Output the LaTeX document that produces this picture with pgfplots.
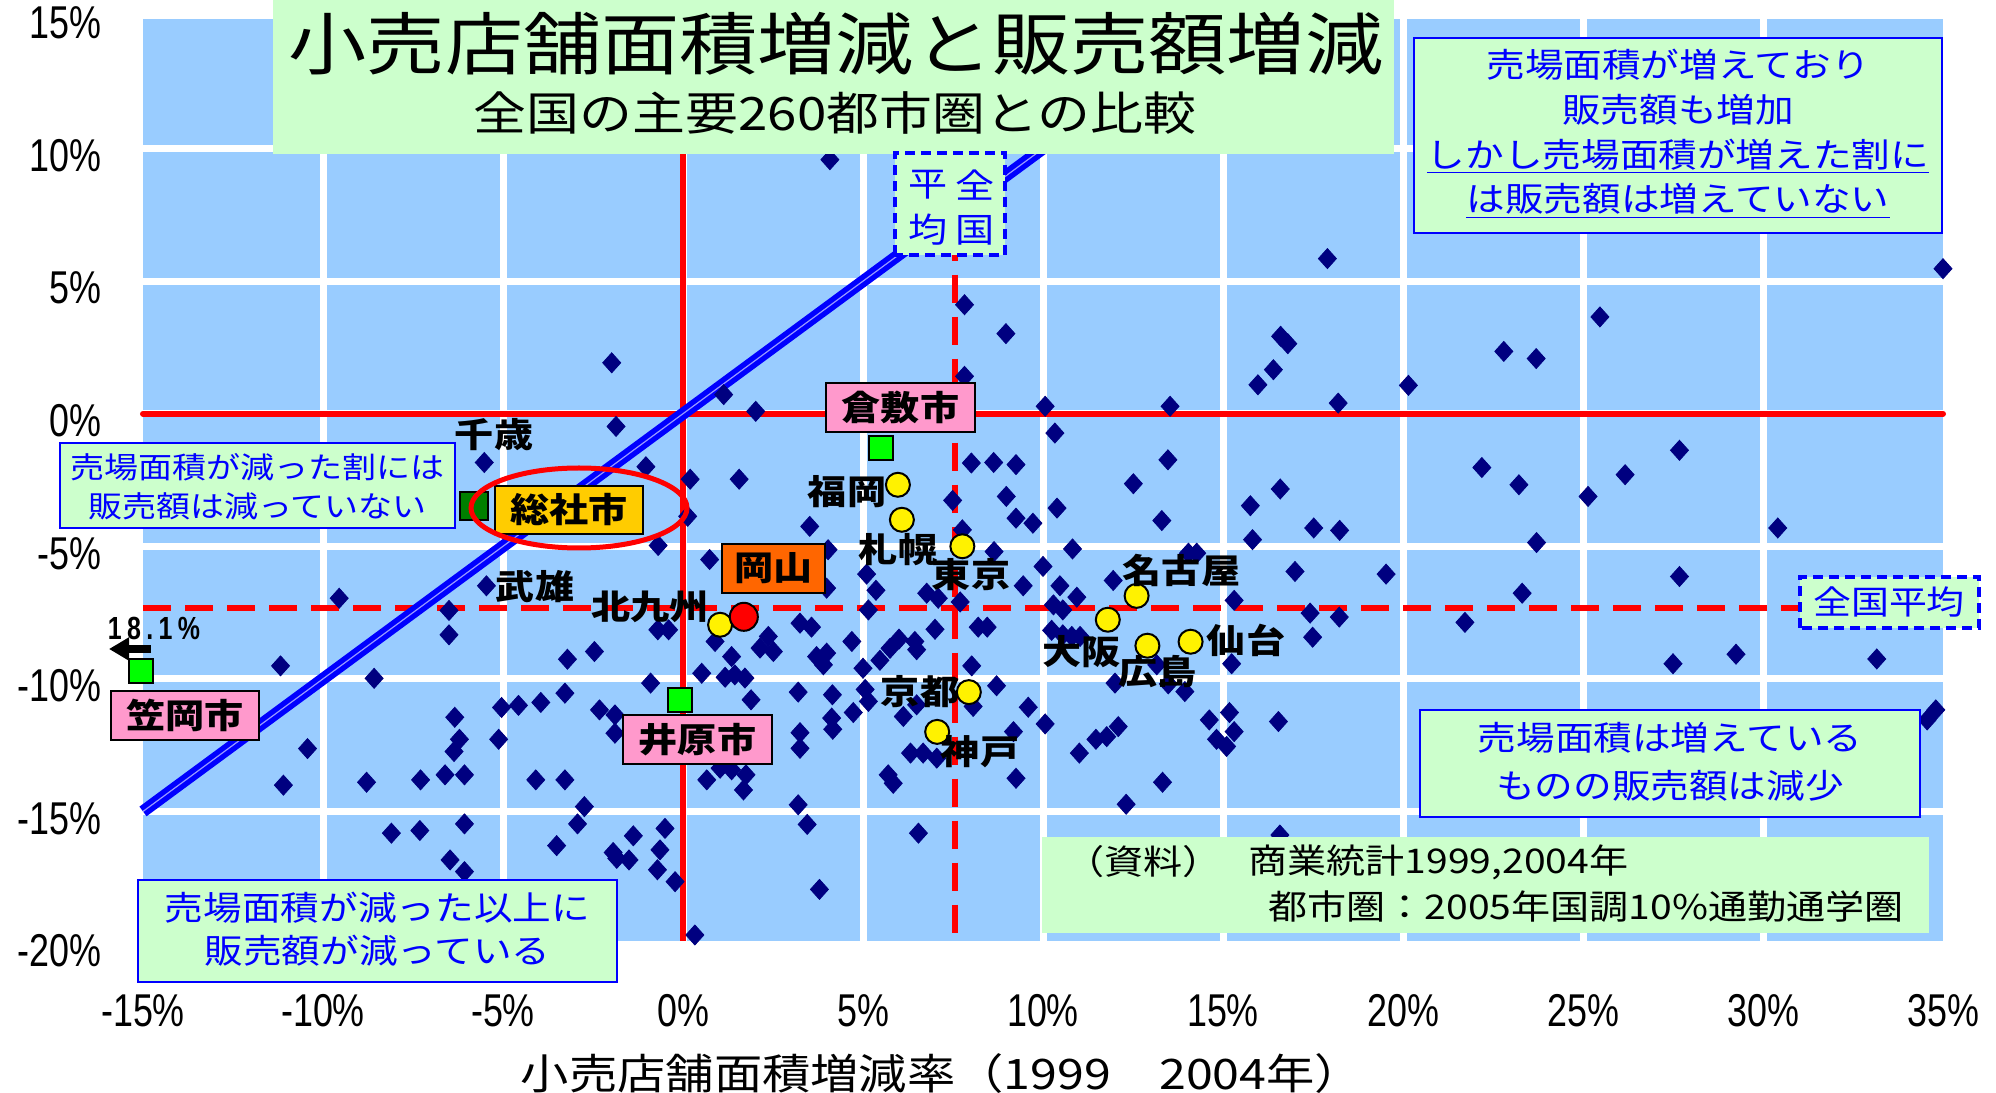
\documentclass[border=0pt]{standalone}
\usepackage{fontspec}
\usepackage{pgfplots}
\pgfplotsset{compat=1.18}
\usetikzlibrary{arrows.meta}
\setmainfont{Noto Sans CJK JP}
\newfontfamily\jp[FakeStretch=1.15]{Noto Sans CJK JP}
\newfontfamily\narrow[FakeStretch=0.78]{Liberation Sans}
\newcommand{\fs}[1]{\fontsize{#1}{#1}\selectfont}
\definecolor{bgblue}{HTML}{99CCFF}
\definecolor{navy}{HTML}{000080}
\definecolor{lgreen}{HTML}{CCFFCC}
\definecolor{pinkbox}{HTML}{FF99CC}
\definecolor{goldbox}{HTML}{FFCC00}
\definecolor{orangebox}{HTML}{FF6600}
\definecolor{brightgreen}{HTML}{00FF00}
\definecolor{darkgreen}{HTML}{007F00}
\begin{document}
\begin{tikzpicture}
\path[use as bounding box] (-71.5pt,-74pt) rectangle (926.5pt,472pt);
\begin{axis}[
  scale only axis, width=900pt, height=464pt,
  xmin=-15, xmax=35, ymin=-20, ymax=15,
  xtick={-15,-10,...,35}, ytick={-20,-15,...,15},
  xticklabels={-15\%,-10\%,-5\%,0\%,5\%,10\%,15\%,20\%,25\%,30\%,35\%},
  yticklabels={-20\%,-15\%,-10\%,-5\%,0\%,5\%,10\%,15\%},
  minor xtick={-10,-5,...,30},
  xmajorgrids=false, ymajorgrids=true, xminorgrids=true,
  major grid style={white, line width=3.5pt},
  minor grid style={white, line width=3.5pt},
  major tick length=0pt, minor tick length=0pt,
  tick style={draw=none}, minor tick style={draw=none},
  axis line style={draw=none},
  axis background/.style={fill=bgblue},
  tick label style={font=\narrow\fs{23}, inner sep=0pt},
  xticklabel style={anchor=center, yshift=-33.5pt},
  yticklabel style={anchor=east, xshift=-20.5pt, yshift=-3.5pt},
  clip=false,
]
% reference lines
\addplot[red, line width=3pt, line cap=round] coordinates {(-15,0) (35,0)};
\addplot[red, line width=3pt] coordinates {(0,15) (0,-19.9)};
\addplot[red, line width=2.7pt, dash pattern=on 14pt off 7pt] coordinates {(-15,-7.33) (31.5,-7.33)};
\addplot[red, line width=2.7pt, dash pattern=on 14pt off 7pt] coordinates {(7.55,10) (7.55,-19.9)};
% diagonal (double blue line)
\addplot[blue, line width=6pt] coordinates {(-15,-15) (10,10)};
\addplot[white!60!blue, line width=0.6pt] coordinates {(-15,-15) (10,10)};
% cities
\addplot[only marks, mark=diamond*, mark size=5pt, mark options={fill=navy, draw=navy, xscale=1.2}] coordinates {
(-1.98,1.92) (4.08,9.58) (7.82,4.11) (8.97,3.02) (17.9,5.85) (16.6,2.92) (16.8,2.64) (16.4,1.66) (15.97,1.09) (7.82,1.41) (1.13,0.72) (35.0,5.47) (25.47,3.65) (22.8,2.35) (23.7,2.08) (20.15,1.07) (18.2,0.4) (2.02,0.09) (10.06,0.28) (13.53,0.28) (10.33,-0.73) (8.01,-1.86) (8.63,-1.84) (9.25,-1.92) (13.47,-1.74) (0.2,-2.47) (1.56,-2.47) (8.98,-3.12) (12.51,-2.64) (16.59,-2.84) (10.39,-3.56) (15.76,-3.47) (9.25,-3.94) (9.72,-4.13) (13.3,-4.03) (17.52,-4.31) (18.24,-4.4) (15.82,-4.75) (7.49,-3.27) (3.52,-4.25) (-0.69,-4.97) (7.76,-4.38) (8.64,-5.2) (10.82,-5.1) (0.74,-5.5) (4.03,-5.13) (5.1,-6.05) (5.36,-6.66) (6.77,-6.77) (7.09,-6.96) (10.0,-5.76) (9.45,-6.49) (10.47,-6.49) (10.94,-6.92) (11.95,-6.29) (14.04,-5.26) (14.27,-5.26) (17.0,-5.95) (15.31,-7.04) (17.42,-7.52) (18.23,-7.67) (17.49,-8.43) (15.24,-9.43) (7.7,-7.1) (10.29,-7.21) (10.55,-7.4) (7.0,-8.13) (8.2,-8.05) (8.45,-8.05) (10.24,-8.17) (10.55,-8.34) (10.8,-8.4) (11.03,-8.4) (5.47,-9.3) (5.75,-8.85) (6.0,-8.5) (6.44,-8.59) (6.49,-8.9) (8.02,-9.51) (13.16,-9.47) (12.0,-10.16) (13.48,-10.19) (13.94,-10.48) (8.71,-10.26) (8.06,-11.04) (6.49,-10.98) (6.12,-11.42) (9.59,-11.07) (10.06,-11.7) (9.18,-11.99) (6.32,-12.8) (6.67,-12.8) (7.05,-12.99) (5.7,-13.62) (5.84,-13.94) (9.25,-13.75) (6.54,-15.82) (11.01,-12.8) (11.47,-12.28) (11.77,-12.18) (12.09,-11.8) (13.32,-13.9) (12.31,-14.73) (14.62,-11.55) (15.18,-11.27) (15.31,-11.99) (14.82,-12.28) (15.1,-12.55) (16.54,-11.61) (16.58,-15.89) (27.68,-1.38) (22.19,-2.03) (23.22,-2.68) (26.17,-2.3) (25.14,-3.12) (30.41,-4.31) (23.71,-4.86) (19.53,-6.05) (27.68,-6.14) (23.31,-6.77) (21.72,-7.87) (27.5,-9.43) (29.25,-9.07) (33.16,-9.25) (34.8,-11.17) (34.56,-11.55) (-1.86,-0.48) (-5.52,-1.84) (-1.03,-2.0) (0.13,-3.87) (-5.46,-6.49) (-9.55,-6.96) (-6.5,-7.42) (-6.5,-8.34) (-0.7,-8.15) (-0.4,-8.15) (-11.18,-9.51) (-8.58,-9.98) (-3.21,-9.26) (-2.46,-8.97) (-0.9,-10.16) (-3.28,-10.54) (-5.04,-11.08) (-4.57,-11.0) (-3.95,-10.89) (-2.32,-11.17) (-1.89,-11.36) (-1.89,-12.05) (-6.34,-11.45) (-6.21,-12.28) (-6.36,-12.74) (-5.12,-12.28) (-10.43,-12.63) (-11.1,-14.01) (-8.79,-13.9) (-7.29,-13.81) (-6.61,-13.62) (-6.07,-13.62) (-4.09,-13.81) (-3.28,-13.81) (-2.74,-14.82) (-2.93,-15.47) (-3.51,-16.29) (-8.1,-15.82) (-7.31,-15.72) (-6.07,-15.47) (-6.47,-16.83) (-6.07,-17.27) (-1.38,-15.92) (-0.5,-15.64) (-0.64,-16.45) (-1.94,-16.55) (-1.84,-16.77) (-1.5,-16.83) (-0.71,-17.2) (-0.22,-17.65) (0.33,-19.66) (3.99,-6.58) (5.15,-7.4) (3.25,-7.9) (3.57,-8.05) (2.37,-8.4) (2.14,-8.84) (2.51,-8.97) (0.89,-8.59) (1.35,-9.16) (4.69,-8.59) (3.71,-9.16) (3.99,-9.03) (3.9,-9.47) (5.0,-9.6) (0.52,-9.79) (1.17,-9.94) (1.44,-9.85) (1.72,-9.97) (1.89,-10.79) (3.2,-10.5) (4.15,-10.6) (5.06,-10.4) (5.15,-10.85) (4.73,-11.27) (4.13,-11.48) (4.16,-11.9) (3.25,-12.03) (3.25,-12.62) (1.03,-13.37) (1.35,-13.43) (1.75,-13.62) (0.66,-13.81) (1.68,-14.19) (3.2,-14.75) (3.45,-15.49) (3.79,-17.94)
};
% major cities
\addplot[only marks, mark=*, mark size=6pt, mark options={fill=yellow, draw=black, line width=1pt}] coordinates {
(1.03,-7.96) (5.97,-2.68) (6.08,-4.0) (7.76,-5.0) (7.94,-10.5) (7.06,-12.0) (12.6,-6.87) (11.8,-7.77) (12.9,-8.75) (14.1,-8.6)
};
% Okayama
\addplot[only marks, mark=*, mark size=7pt, mark options={fill=red, draw=black, line width=1pt}] coordinates {(1.69,-7.66)};
% Kurashiki, Ibara, Kasaoka
\addplot[only marks, mark=square*, mark size=6pt, mark options={fill=brightgreen, draw=black, line width=1pt}] coordinates {(5.5,-1.28) (-0.07,-10.8) (-15.05,-9.7)};
% Soja
\addplot[only marks, mark=square*, mark size=7pt, mark options={fill=darkgreen, draw=black, line width=1pt}] coordinates {(-5.8,-3.47)};
\end{axis}
% title
\fill[lgreen] (65pt,395pt) rectangle (625.5pt,472pt);
\node[inner sep=0pt] at (346.5pt,450pt) {\jp\fs{34}小売店舗面積増減と販売額増減};
\node[inner sep=0pt] at (346pt,415.5pt) {\jp\fs{23}全国の主要260都市圏との比較};
% x label
\node[inner sep=0pt] at (399.5pt,-65pt) {\jp\fs{21}小売店舗面積増減率（1999　2004年）};
% top-right box
\draw[blue, line width=1pt, fill=lgreen] (635.5pt,355.5pt) rectangle (899.5pt,453pt);
\node[align=center, text=blue, inner sep=0pt, font=\jp\fontsize{16.8}{22.3}\selectfont] at (767.5pt,405pt) {売場面積が増えており\\販売額も増加\\\underline{しかし売場面積が増えた割に}\\\underline{は販売額は増えていない}};
% left box
\draw[blue, line width=1pt, fill=lgreen] (-41.5pt,208pt) rectangle (156pt,250.5pt);
\node[align=center, text=blue, inner sep=0pt, font=\jp\fontsize{14.8}{19.5}\selectfont] at (57.25pt,228.5pt) {売場面積が減った割には\\販売額は減っていない};
% bottom-left box
\draw[blue, line width=1pt, fill=lgreen] (-2.5pt,-19pt) rectangle (237pt,32pt);
\node[align=center, text=blue, inner sep=0pt, font=\jp\fontsize{16.8}{21.5}\selectfont] at (117.25pt,7.5pt) {売場面積が減った以上に\\販売額が減っている};
% bottom-right box
\draw[blue, line width=1pt, fill=lgreen] (638.5pt,63.5pt) rectangle (888.5pt,117pt);
\node[align=center, text=blue, inner sep=0pt, font=\jp\fontsize{16.8}{24}\selectfont] at (763.5pt,91pt) {売場面積は増えている\\ものの販売額は減少};
% source box
\fill[lgreen] (449.5pt,5.5pt) rectangle (893pt,53.5pt);
\node[anchor=west, inner sep=0pt] at (461pt,41pt) {\jp\fs{17}（資料）};
\node[anchor=west, inner sep=0pt] at (552.5pt,41pt) {\jp\fs{17}商業統計1999,2004年};
\node[anchor=west, inner sep=0pt] at (562.5pt,18.5pt) {\jp\fs{17}都市圏：2005年国調10\%通勤通学圏};
% national average boxes
\draw[blue, line width=2pt, dash pattern=on 5pt off 3pt, fill=lgreen] (376pt,344.5pt) rectangle (431pt,395.5pt);
\node[text=blue, inner sep=0pt] at (416pt,379.5pt) {\jp\fs{17}全};
\node[text=blue, inner sep=0pt] at (416pt,357pt) {\jp\fs{17}国};
\node[text=blue, inner sep=0pt] at (392.5pt,379.5pt) {\jp\fs{17}平};
\node[text=blue, inner sep=0pt] at (392.5pt,357pt) {\jp\fs{17}均};
\draw[blue, line width=2pt, dash pattern=on 5pt off 3pt, fill=lgreen] (828.5pt,158pt) rectangle (918pt,183.5pt);
\node[text=blue, inner sep=0pt] at (873pt,171pt) {\jp\fs{16.5}全国平均};
% labelled boxes
\node[draw=black, line width=1.2pt, fill=goldbox, minimum width=74pt, minimum height=24pt, inner sep=0pt] at (213pt,217pt) {\jp\bfseries\fs{17}総社市};
\node[draw=black, line width=1.2pt, fill=pinkbox, minimum width=74.5pt, minimum height=24.5pt, inner sep=0pt] at (378.75pt,268.25pt) {\jp\bfseries\fs{17}倉敷市};
\node[draw=black, line width=1.2pt, fill=pinkbox, minimum width=74.5pt, minimum height=24.5pt, inner sep=0pt] at (277.25pt,102.25pt) {\jp\bfseries\fs{17}井原市};
\node[draw=black, line width=1.2pt, fill=pinkbox, minimum width=74pt, minimum height=24.5pt, inner sep=0pt] at (21pt,114.25pt) {\jp\bfseries\fs{17}笠岡市};
\node[draw=black, line width=1.2pt, fill=orangebox, minimum width=51.5pt, minimum height=24.5pt, inner sep=0pt] at (315.25pt,187.75pt) {\jp\bfseries\fs{17}岡山};
% city labels
\begin{scope}[every node/.style={inner sep=0pt, font=\jp\bfseries\fs{17}}]
\node at (175.5pt,254.5pt) {千歳};
\node at (196pt,178.5pt) {武雄};
\node at (253.5pt,168.5pt) {北九州};
\node at (352pt,226pt) {福岡};
\node at (377.5pt,197pt) {札幌};
\node at (414pt,184.5pt) {東京};
\node at (388.5pt,126pt) {京都};
\node at (418.5pt,96pt) {神戸};
\node at (519.25pt,187pt) {名古屋};
\node at (469.25pt,146pt) {大阪};
\node at (507.25pt,136pt) {広島};
\node at (551.5pt,152pt) {仙台};
\end{scope}
% Kasaoka off-scale note
\node[inner sep=0pt] at (5.5pt,158pt) {\narrow\bfseries\fs{16}1\,8\,.\,1\,\%};
\draw[line width=4pt, -{Triangle[length=10pt,width=11pt]}] (4pt,147.5pt) -- (-17pt,147.5pt);
% ellipse round Soja
\draw[red, line width=2.5pt] (218pt,218pt) ellipse [x radius=54pt, y radius=20pt];
\end{tikzpicture}
\end{document}
